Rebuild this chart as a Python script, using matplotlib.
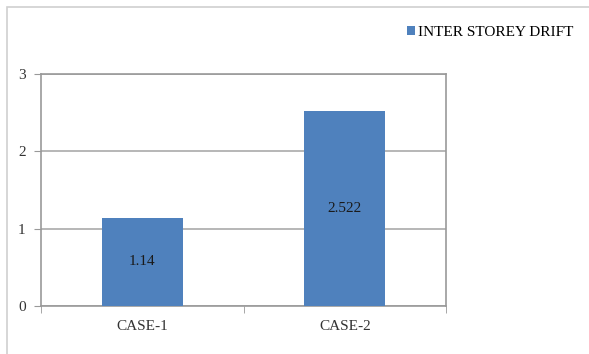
import matplotlib.pyplot as plt
from matplotlib.patches import Rectangle

categories = ['CASE-1', 'CASE-2']
drift = [1.14, 2.522]
series_name = 'INTER STOREY DRIFT'

plt.rcParams['font.family'] = ['Liberation Serif', 'DejaVu Serif']

fig = plt.figure(figsize=(5.89, 3.54), dpi=100)
ax = fig.add_axes([41/589, 1-306/354, 405/589, 232/354])

# light frame round the whole chart
fig.patches.append(Rectangle((7/589, -0.05), 1.0, 1-7/354+0.05, transform=fig.transFigure,
                             fill=False, edgecolor='#d0d0d0', linewidth=1.2))

x = range(len(categories))
bars = ax.bar(x, drift, width=0.4, color='#4f81bd', label=series_name, zorder=3)
ax.bar_label(bars, labels=[f'{v:g}' for v in drift], label_type='center', fontsize=11, color='#1a1a1a')

ax.set_xlim(-0.5, 1.5)
ax.set_ylim(0, 3)
ax.set_yticks([0, 1, 2, 3])
ax.set_xticks(list(x))
ax.set_xticklabels(categories)
ax.set_xticks([-0.5, 0.5, 1.5], minor=True)
ax.tick_params(axis='x', which='major', length=0, pad=10, labelsize=11, labelcolor='#333333')
ax.tick_params(axis='x', which='minor', length=5, color='#999999', direction='out')
ax.tick_params(axis='y', length=5, color='#999999', pad=6, labelsize=11, labelcolor='#333333')
ax.grid(axis='y', color='#aaaaaa', linewidth=1.2, zorder=0)
for s in ax.spines.values():
    s.set_color('#999999')
    s.set_linewidth(1.2)

ax.legend(loc='upper left', bbox_to_anchor=(407/589, 1-26/354), bbox_transform=fig.transFigure,
          frameon=False, fontsize=11, handlelength=0.5, handleheight=0.5, handletextpad=0.2,
          borderaxespad=0, borderpad=0)

fig.savefig('out.png', dpi=100)
